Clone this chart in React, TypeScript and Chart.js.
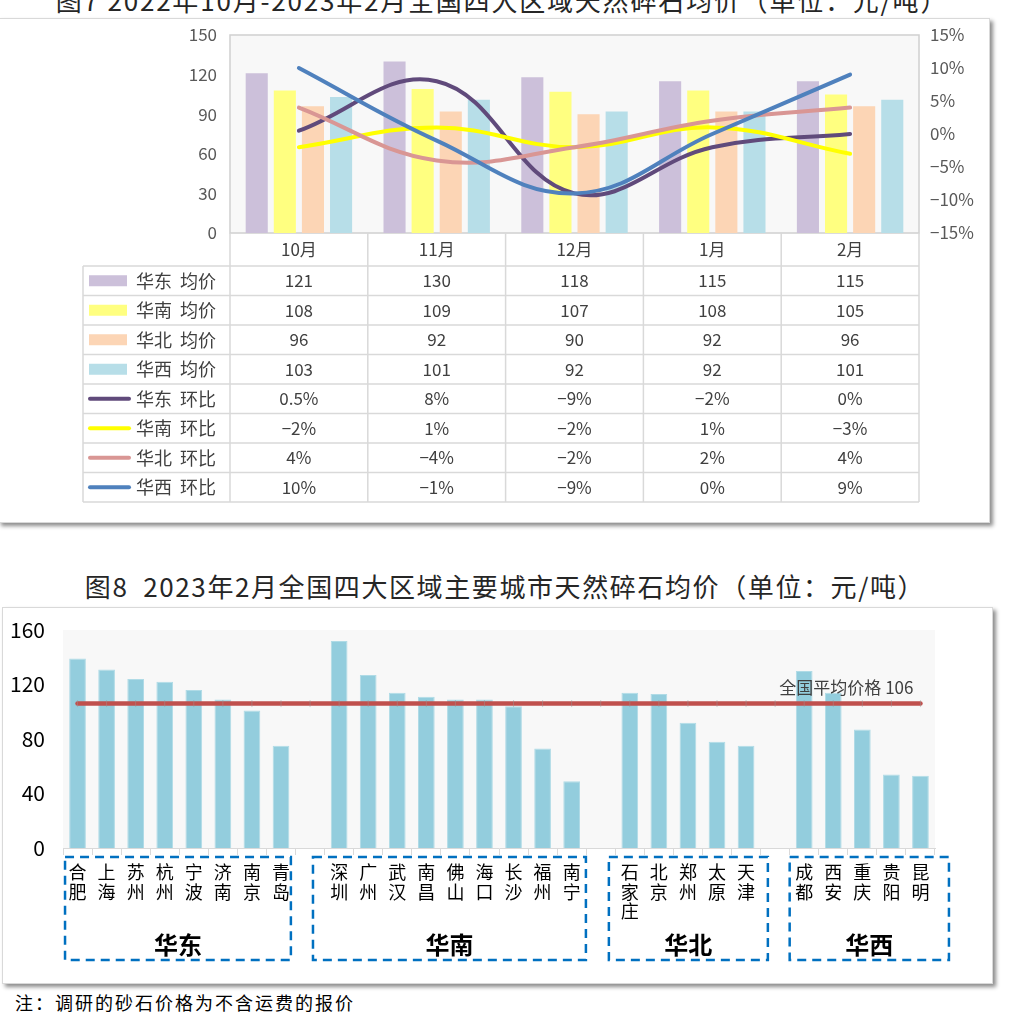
import React, { useEffect, useRef } from 'react';
import { Chart, registerables } from 'chart.js';

Chart.register(...registerables);

const FONT = '"Noto Sans CJK SC", "Noto Sans", sans-serif';

// ---------- Figure 7 data ----------
const months = ['10月', '11月', '12月', '1月', '2月'];
const eastAvg = [121, 130, 118, 115, 115];
const southAvg = [108, 109, 107, 108, 105];
const northAvg = [96, 92, 90, 92, 96];
const westAvg = [103, 101, 92, 92, 101];
const eastMoM = [0.5, 8, -9, -2, 0];
const southMoM = [-2, 1, -2, 1, -3];
const northMoM = [4, -4, -2, 2, 4];
const westMoM = [10, -1, -9, 0, 9];

// ---------- Figure 8 data ----------
const cities = ['合肥', '上海', '苏州', '杭州', '宁波', '济南', '南京', '青岛', '',
  '深圳', '广州', '武汉', '南昌', '佛山', '海口', '长沙', '福州', '南宁', '',
  '石家庄', '北京', '郑州', '太原', '天津', '',
  '成都', '西安', '重庆', '贵阳', '昆明'];
const cityPrices = [139, 131, 124, 122, 116, 109, 101, 75, null,
  152, 127, 114, 111, 109, 109, 104, 73, 49, null,
  114, 113, 92, 78, 75, null,
  130, 114, 87, 54, 53];
const nationalAvg = 106;
const regionNames = ['华东', '华南', '华北', '华西'];

const TITLE7 = '图7 2022年10月-2023年2月全国四大区域天然碎石均价（单位：元/吨）';
const TITLE8 = '图8  2023年2月全国四大区域主要城市天然碎石均价（单位：元/吨）';
const NOTE = '注：调研的砂石价格为不含运费的报价';

const fmtPct = (v: number) => (v < 0 ? '−' + Math.abs(v) : String(v)) + '%';

const topSeries = [
  { name: '华东  均价', kind: 'bar', data: eastAvg, color: '#ccc0da' },
  { name: '华南  均价', kind: 'bar', data: southAvg, color: '#ffff80' },
  { name: '华北  均价', kind: 'bar', data: northAvg, color: '#fcd5b5' },
  { name: '华西  均价', kind: 'bar', data: westAvg, color: '#b7dee8' },
  { name: '华东  环比', kind: 'line', data: eastMoM, color: '#604a7b' },
  { name: '华南  环比', kind: 'line', data: southMoM, color: '#ffff00' },
  { name: '华北  环比', kind: 'line', data: northMoM, color: '#d99694' },
  { name: '华西  环比', kind: 'line', data: westMoM, color: '#4f81bd' },
];

const fixAxis = (w: number) => (s: any) => {
  s.width = w;
  s.paddingTop = 0;
  s.paddingBottom = 0;
};

const topPlugin = {
  id: 'topDecor',
  beforeDraw(chart: any) {
    const { ctx, chartArea: a } = chart;
    ctx.save();
    ctx.fillStyle = '#f8f8f8';
    ctx.fillRect(a.left, a.top, a.right - a.left, a.bottom - a.top);
    ctx.strokeStyle = '#d0d0d0';
    ctx.lineWidth = 1.5;
    ctx.strokeRect(a.left, a.top, a.right - a.left, a.bottom - a.top);
    ctx.restore();
  },
  afterDraw(chart: any) {
    const { ctx, chartArea: a } = chart;
    const xs = chart.scales.x;
    const n = months.length;
    const catW = (a.right - a.left) / n;
    const tableTop = a.bottom + 33;
    const rowH = 29.5;
    const tableLeft = 83;
    const tableBottom = tableTop + rowH * topSeries.length;
    ctx.save();
    ctx.strokeStyle = '#d9d9d9';
    ctx.lineWidth = 1.5;
    ctx.beginPath();
    for (let i = 0; i <= n; i++) {
      const x = a.left + i * catW;
      ctx.moveTo(x, a.bottom);
      ctx.lineTo(x, tableBottom);
    }
    ctx.moveTo(tableLeft, tableTop);
    ctx.lineTo(tableLeft, tableBottom);
    for (let r = 0; r <= topSeries.length; r++) {
      const y = tableTop + r * rowH;
      ctx.moveTo(tableLeft, y);
      ctx.lineTo(a.right, y);
    }
    ctx.stroke();

    ctx.fillStyle = '#404040';
    ctx.font = `17px ${FONT}`;
    ctx.textAlign = 'center';
    ctx.textBaseline = 'middle';
    months.forEach((m, i) => ctx.fillText(m, xs.getPixelForValue(i), (a.bottom + tableTop) / 2));

    topSeries.forEach((s, r) => {
      const cy = tableTop + r * rowH + rowH / 2;
      if (s.kind === 'bar') {
        ctx.fillStyle = s.color;
        ctx.fillRect(89, cy - 5.5, 38, 11);
      } else {
        ctx.strokeStyle = s.color;
        ctx.lineWidth = 4;
        ctx.lineCap = 'round';
        ctx.beginPath();
        ctx.moveTo(90, cy);
        ctx.lineTo(129, cy);
        ctx.stroke();
      }
      ctx.fillStyle = '#404040';
      ctx.font = `18px ${FONT}`;
      ctx.textAlign = 'left';
      ctx.fillText(s.name, 136, cy);
      ctx.font = `17px ${FONT}`;
      ctx.textAlign = 'center';
      s.data.forEach((v, i) => {
        const t = s.kind === 'bar' ? String(v) : fmtPct(v);
        ctx.fillText(t, xs.getPixelForValue(i), cy);
      });
    });
    ctx.restore();
  },
};

const regionSpans = [[0.07, 7.84], [8.6, 17.99], [18.78, 24.25], [25.0, 30.48]];

const bottomPlugin = {
  id: 'bottomDecor',
  beforeDraw(chart: any) {
    const { ctx, chartArea: a } = chart;
    ctx.save();
    ctx.fillStyle = '#f8f8f8';
    ctx.fillRect(a.left, a.top, a.right - a.left, a.bottom - a.top);
    ctx.restore();
  },
  afterDraw(chart: any) {
    const { ctx, chartArea: a } = chart;
    const xs = chart.scales.x;
    const ys = chart.scales.y;
    const catW = (a.right - a.left) / cities.length;
    ctx.save();
    ctx.fillStyle = '#000';
    ctx.font = `18px ${FONT}`;
    ctx.textAlign = 'center';
    ctx.textBaseline = 'middle';
    cities.forEach((c, i) => {
      const x = xs.getPixelForValue(i);
      Array.from(c).forEach((ch, j) => ctx.fillText(ch, x, a.bottom + 24 + j * 19.7));
    });
    ctx.strokeStyle = '#0070c0';
    ctx.lineWidth = 2.5;
    ctx.setLineDash([9, 6]);
    regionSpans.forEach(([u0, u1], k) => {
      const x0 = a.left + u0 * catW;
      const x1 = a.left + u1 * catW;
      const y0 = a.bottom + 9;
      const y1 = a.bottom + 112;
      ctx.strokeRect(x0, y0, x1 - x0, y1 - y0);
      ctx.fillStyle = '#000';
      ctx.font = `bold 24px ${FONT}`;
      ctx.fillText(regionNames[k], (x0 + x1) / 2, a.bottom + 97);
    });
    ctx.setLineDash([]);
    const lastX = xs.getPixelForValue(cities.length - 1);
    ctx.fillStyle = '#404040';
    ctx.font = `17px ${FONT}`;
    ctx.textAlign = 'right';
    ctx.fillText('全国平均价格 ' + nationalAvg, lastX - 7, ys.getPixelForValue(nationalAvg) - 16);
    ctx.restore();
  },
};

export default function App() {
  const topRef = useRef<HTMLCanvasElement>(null);
  const botRef = useRef<HTMLCanvasElement>(null);

  useEffect(() => {
    const datasets: any[] = topSeries.map((s, i) => {
      if (s.kind === 'bar') {
        return {
          type: 'bar', label: s.name, data: s.data, backgroundColor: s.color,
          borderWidth: 0, yAxisID: 'y', order: 10,
          barPercentage: 0.786, categoryPercentage: 0.816,
        };
      }
      return {
        type: 'line', label: s.name, data: s.data, borderColor: s.color, backgroundColor: s.color,
        borderWidth: 4, tension: 0.4, pointRadius: 0, yAxisID: 'y1', fill: false,
        borderCapStyle: 'round', order: 8 - i,
      };
    });
    const c1 = new Chart(topRef.current!, {
      type: 'bar',
      data: { labels: months, datasets },
      options: {
        responsive: false,
        animation: false,
        layout: { padding: { top: 15, bottom: 290, left: 0, right: 0 } },
        plugins: { legend: { display: false }, tooltip: { enabled: false } },
        scales: {
          x: { display: false },
          y: {
            position: 'left', min: 0, max: 150,
            ticks: { stepSize: 30, color: '#595959', font: { size: 17, family: FONT }, padding: 13 },
            grid: { display: false, drawTicks: false }, border: { display: false },
            afterFit: fixAxis(230),
          },
          y1: {
            position: 'right', min: -15, max: 15,
            ticks: { stepSize: 5, color: '#595959', font: { size: 17, family: FONT }, padding: 11,
              callback: (v: any) => fmtPct(Number(v)) },
            grid: { display: false, drawTicks: false }, border: { display: false },
            afterFit: fixAxis(71),
          },
        },
      } as any,
      plugins: [topPlugin],
    });

    const c2 = new Chart(botRef.current!, {
      type: 'bar',
      data: {
        labels: cities,
        datasets: [
          {
            type: 'line', label: '全国平均价格', data: cities.map(() => nationalAvg),
            borderColor: '#c0504d', backgroundColor: '#c0504d', borderWidth: 4.5,
            borderCapStyle: 'round', pointStyle: 'line', pointRadius: 3.5, pointRotation: 90,
            pointBorderColor: 'rgba(150,150,150,0.45)', pointBorderWidth: 1, pointHoverRadius: 0,
            order: 1,
          } as any,
          {
            type: 'bar', label: '均价', data: cityPrices, backgroundColor: '#93cddd',
            borderColor: '#b0dbe6', borderWidth: 1,
            barPercentage: 0.575, categoryPercentage: 1, order: 2,
          } as any,
        ],
      },
      options: {
        responsive: false,
        animation: false,
        layout: { padding: { top: 23, right: 58, left: 0, bottom: 0 } },
        plugins: { legend: { display: false }, tooltip: { enabled: false } },
        scales: {
          x: {
            grid: { display: true, drawOnChartArea: false, drawTicks: true, tickLength: 7, color: '#d9d9d9', offset: true },
            border: { display: true, color: '#d9d9d9' },
            ticks: { display: false, autoSkip: false },
            afterFit: (s: any) => { s.height = 135; },
          },
          y: {
            min: 0, max: 160,
            ticks: { stepSize: 40, color: '#000', font: { size: 21, family: FONT }, padding: 18 },
            grid: { display: false, drawTicks: false }, border: { display: false },
            afterFit: fixAxis(61),
          },
        },
      } as any,
      plugins: [bottomPlugin],
    });

    return () => { c1.destroy(); c2.destroy(); };
  }, []);

  const box: React.CSSProperties = {
    position: 'absolute', boxSizing: 'border-box', background: '#fff',
    border: '1px solid #d9d9d9', boxShadow: '3px 3px 4px rgba(0,0,0,0.45)',
  };

  return (
    <div style={{ position: 'absolute', left: 0, top: 0, width: 1012, height: 1026, overflow: 'hidden', background: '#fff', fontFamily: FONT }}>
      <div style={{ ...box, left: -2, top: 18, width: 992, height: 505 }} />
      <div style={{ position: 'absolute', left: 7, top: -15, width: 990, textAlign: 'center', fontSize: 26, lineHeight: '30px', color: '#262626', whiteSpace: 'pre', letterSpacing: 1.8 }}>{TITLE7}</div>
      <canvas ref={topRef} width={990} height={503} style={{ position: 'absolute', left: 0, top: 20, width: 990, height: 503 }} />
      <div style={{ position: 'absolute', left: 0, top: 571, width: 1010, textAlign: 'center', fontSize: 26, lineHeight: '30px', color: '#262626', whiteSpace: 'pre', letterSpacing: 1.6 }}>{TITLE8}</div>
      <div style={{ ...box, left: 2, top: 607, width: 991, height: 377 }} />
      <canvas ref={botRef} width={991} height={376} style={{ position: 'absolute', left: 2, top: 607, width: 991, height: 376 }} />
      <div style={{ position: 'absolute', left: 15, top: 990, fontSize: 18, lineHeight: '24px', color: '#000', whiteSpace: 'nowrap', letterSpacing: 2 }}>{NOTE}</div>
    </div>
  );
}
